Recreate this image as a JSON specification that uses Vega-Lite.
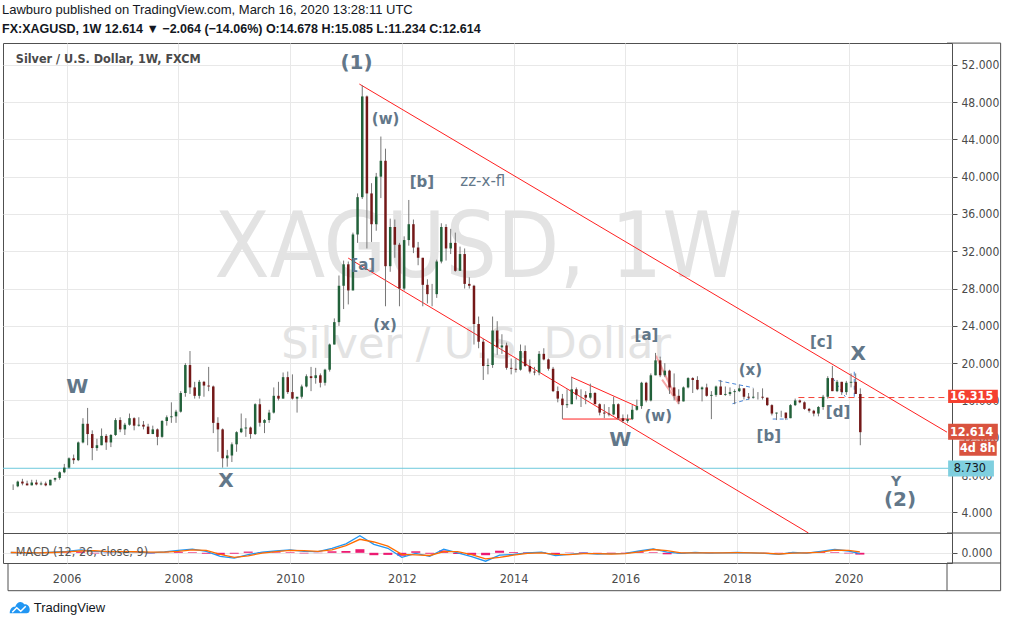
{
  "$schema": "https://vega.github.io/schema/vega-lite/v6.json",
  "background": "white",
  "padding": {"left": 2, "top": 3, "right": 0, "bottom": 0},
  "spacing": 0,
  "bounds": "flush",
  "title": {
    "text": "Lawburo published on TradingView.com, March 16, 2020 13:28:11 UTC",
    "subtitle": "FX:XAGUSD, 1W  12.614 ▼ −2.064 (−14.06%)  O:14.678  H:15.085  L:11.234  C:12.614",
    "anchor": "start",
    "font": "Liberation Sans",
    "fontSize": 13,
    "fontWeight": "normal",
    "color": "#131722",
    "subtitleFont": "Liberation Sans",
    "subtitleFontSize": 12.5,
    "subtitleFontWeight": "bold",
    "subtitleColor": "#131722",
    "subtitlePadding": 6,
    "offset": 7
  },
  "datasets": {
    "px": [
      {"t":2005.042,"o":6.8,"h":7.0,"l":6.4,"c":6.8},
      {"t":2005.125,"o":6.8,"h":7.4,"l":6.7,"c":7.3},
      {"t":2005.208,"o":7.3,"h":7.6,"l":6.9,"c":7.1},
      {"t":2005.292,"o":7.1,"h":7.4,"l":6.9,"c":6.9},
      {"t":2005.375,"o":6.9,"h":7.5,"l":6.9,"c":7.2},
      {"t":2005.458,"o":7.2,"h":7.5,"l":6.9,"c":7.0},
      {"t":2005.542,"o":7.0,"h":7.3,"l":6.9,"c":7.1},
      {"t":2005.625,"o":7.1,"h":7.3,"l":6.8,"c":6.9},
      {"t":2005.708,"o":6.9,"h":7.5,"l":6.9,"c":7.5},
      {"t":2005.792,"o":7.5,"h":7.7,"l":7.3,"c":7.7},
      {"t":2005.875,"o":7.7,"h":8.4,"l":7.5,"c":8.3},
      {"t":2005.958,"o":8.3,"h":9.2,"l":8.2,"c":8.8},
      {"t":2006.042,"o":8.8,"h":9.9,"l":8.7,"c":9.8},
      {"t":2006.125,"o":9.8,"h":10.2,"l":9.2,"c":9.6},
      {"t":2006.208,"o":9.6,"h":11.6,"l":9.5,"c":11.5},
      {"t":2006.292,"o":11.5,"h":14.1,"l":11.4,"c":13.5},
      {"t":2006.375,"o":13.5,"h":15.2,"l":11.2,"c":12.4},
      {"t":2006.458,"o":12.4,"h":12.8,"l":9.6,"c":10.9},
      {"t":2006.542,"o":10.9,"h":11.9,"l":10.6,"c":11.2},
      {"t":2006.625,"o":11.2,"h":13.0,"l":11.2,"c":12.2},
      {"t":2006.708,"o":12.2,"h":12.4,"l":10.7,"c":11.5},
      {"t":2006.792,"o":11.5,"h":12.4,"l":11.0,"c":12.3},
      {"t":2006.875,"o":12.3,"h":14.1,"l":12.2,"c":13.9},
      {"t":2006.958,"o":13.9,"h":14.2,"l":12.6,"c":12.9},
      {"t":2007.042,"o":12.9,"h":13.6,"l":12.3,"c":13.4},
      {"t":2007.125,"o":13.4,"h":14.6,"l":13.3,"c":14.1},
      {"t":2007.208,"o":14.1,"h":14.2,"l":12.8,"c":13.3},
      {"t":2007.292,"o":13.3,"h":14.2,"l":13.2,"c":13.4},
      {"t":2007.375,"o":13.4,"h":13.8,"l":12.9,"c":13.2},
      {"t":2007.458,"o":13.2,"h":13.5,"l":12.5,"c":12.4},
      {"t":2007.542,"o":12.4,"h":13.3,"l":12.4,"c":12.9},
      {"t":2007.625,"o":12.9,"h":13.0,"l":11.2,"c":12.1},
      {"t":2007.708,"o":12.1,"h":13.9,"l":12.0,"c":13.8},
      {"t":2007.792,"o":13.8,"h":14.4,"l":13.3,"c":14.2},
      {"t":2007.875,"o":14.2,"h":15.8,"l":13.6,"c":14.3},
      {"t":2007.958,"o":14.3,"h":15.0,"l":13.6,"c":14.8},
      {"t":2008.042,"o":14.8,"h":17.0,"l":14.7,"c":16.8},
      {"t":2008.125,"o":16.8,"h":20.0,"l":16.4,"c":19.8},
      {"t":2008.208,"o":19.8,"h":21.3,"l":16.7,"c":17.4},
      {"t":2008.292,"o":17.4,"h":18.0,"l":16.2,"c":16.5},
      {"t":2008.375,"o":16.5,"h":18.2,"l":16.2,"c":18.0},
      {"t":2008.458,"o":18.0,"h":18.1,"l":16.4,"c":17.6},
      {"t":2008.542,"o":17.6,"h":19.6,"l":17.0,"c":17.5},
      {"t":2008.625,"o":17.5,"h":17.6,"l":12.5,"c":13.6},
      {"t":2008.708,"o":13.6,"h":14.2,"l":10.5,"c":12.9},
      {"t":2008.792,"o":12.9,"h":13.0,"l":8.8,"c":9.8},
      {"t":2008.875,"o":9.8,"h":10.7,"l":8.9,"c":10.1},
      {"t":2008.958,"o":10.1,"h":11.5,"l":9.4,"c":11.3},
      {"t":2009.042,"o":11.3,"h":12.7,"l":10.5,"c":12.6},
      {"t":2009.125,"o":12.6,"h":14.6,"l":12.5,"c":13.0},
      {"t":2009.208,"o":13.0,"h":14.1,"l":12.1,"c":13.1},
      {"t":2009.292,"o":13.1,"h":13.2,"l":11.9,"c":12.4},
      {"t":2009.375,"o":12.4,"h":15.7,"l":12.3,"c":15.6},
      {"t":2009.458,"o":15.6,"h":16.2,"l":13.2,"c":13.6},
      {"t":2009.542,"o":13.6,"h":14.0,"l":12.5,"c":13.9},
      {"t":2009.625,"o":13.9,"h":15.0,"l":13.6,"c":14.7},
      {"t":2009.708,"o":14.7,"h":17.4,"l":14.6,"c":16.5},
      {"t":2009.792,"o":16.5,"h":18.0,"l":16.0,"c":16.2},
      {"t":2009.875,"o":16.2,"h":19.0,"l":16.2,"c":18.5},
      {"t":2009.958,"o":18.5,"h":19.1,"l":16.7,"c":16.9},
      {"t":2010.042,"o":16.9,"h":18.8,"l":16.1,"c":16.2},
      {"t":2010.125,"o":16.2,"h":16.3,"l":14.7,"c":16.4},
      {"t":2010.208,"o":16.4,"h":17.7,"l":16.2,"c":17.5},
      {"t":2010.292,"o":17.5,"h":18.8,"l":17.4,"c":18.6},
      {"t":2010.375,"o":18.6,"h":19.6,"l":17.0,"c":18.4},
      {"t":2010.458,"o":18.4,"h":19.5,"l":17.8,"c":18.7},
      {"t":2010.542,"o":18.7,"h":18.9,"l":17.4,"c":17.9},
      {"t":2010.625,"o":17.9,"h":19.4,"l":17.6,"c":19.3},
      {"t":2010.708,"o":19.3,"h":22.1,"l":19.1,"c":22.0},
      {"t":2010.792,"o":22.0,"h":24.8,"l":22.0,"c":24.4},
      {"t":2010.875,"o":24.4,"h":29.4,"l":24.0,"c":28.3},
      {"t":2010.958,"o":28.3,"h":31.0,"l":25.8,"c":30.6},
      {"t":2011.042,"o":30.6,"h":30.9,"l":26.3,"c":27.8},
      {"t":2011.125,"o":27.8,"h":34.0,"l":27.8,"c":33.8},
      {"t":2011.208,"o":33.8,"h":38.2,"l":32.9,"c":37.8},
      {"t":2011.292,"o":37.8,"h":49.8,"l":37.6,"c":48.6},
      {"t":2011.375,"o":48.6,"h":48.7,"l":32.3,"c":38.2},
      {"t":2011.458,"o":38.2,"h":39.3,"l":33.0,"c":34.9},
      {"t":2011.542,"o":34.9,"h":40.4,"l":34.2,"c":40.0},
      {"t":2011.625,"o":40.0,"h":44.3,"l":37.7,"c":41.7},
      {"t":2011.708,"o":41.7,"h":43.0,"l":26.1,"c":30.4},
      {"t":2011.792,"o":30.4,"h":35.5,"l":29.8,"c":34.6},
      {"t":2011.875,"o":34.6,"h":35.4,"l":31.3,"c":32.7},
      {"t":2011.958,"o":32.7,"h":32.9,"l":26.1,"c":28.0},
      {"t":2012.042,"o":28.0,"h":33.6,"l":27.8,"c":33.2},
      {"t":2012.125,"o":33.2,"h":37.5,"l":32.6,"c":34.9},
      {"t":2012.208,"o":34.9,"h":35.4,"l":31.8,"c":32.4},
      {"t":2012.292,"o":32.4,"h":33.0,"l":30.5,"c":31.3},
      {"t":2012.375,"o":31.3,"h":31.3,"l":26.1,"c":28.4},
      {"t":2012.458,"o":28.4,"h":29.0,"l":26.4,"c":27.4},
      {"t":2012.542,"o":27.4,"h":28.5,"l":26.1,"c":27.4},
      {"t":2012.625,"o":27.4,"h":31.1,"l":27.0,"c":30.9},
      {"t":2012.708,"o":30.9,"h":35.0,"l":30.7,"c":34.6},
      {"t":2012.792,"o":34.6,"h":34.9,"l":31.0,"c":32.3},
      {"t":2012.875,"o":32.3,"h":34.4,"l":31.7,"c":32.9},
      {"t":2012.958,"o":32.9,"h":34.0,"l":29.8,"c":29.9},
      {"t":2013.042,"o":29.9,"h":32.5,"l":29.9,"c":31.7},
      {"t":2013.125,"o":31.7,"h":32.3,"l":28.0,"c":28.5},
      {"t":2013.208,"o":28.5,"h":29.2,"l":28.0,"c":28.3},
      {"t":2013.292,"o":28.3,"h":28.4,"l":22.0,"c":24.2},
      {"t":2013.375,"o":24.2,"h":25.0,"l":21.6,"c":22.3},
      {"t":2013.458,"o":22.3,"h":22.6,"l":18.2,"c":19.7},
      {"t":2013.542,"o":19.7,"h":20.5,"l":18.8,"c":19.8},
      {"t":2013.625,"o":19.8,"h":25.0,"l":19.5,"c":23.5},
      {"t":2013.708,"o":23.5,"h":24.5,"l":20.9,"c":21.7},
      {"t":2013.792,"o":21.7,"h":23.1,"l":21.0,"c":21.9},
      {"t":2013.875,"o":21.9,"h":22.2,"l":19.3,"c":19.5},
      {"t":2013.958,"o":19.5,"h":20.5,"l":18.8,"c":19.4},
      {"t":2014.042,"o":19.4,"h":20.5,"l":19.0,"c":19.3},
      {"t":2014.125,"o":19.3,"h":22.0,"l":19.2,"c":21.3},
      {"t":2014.208,"o":21.3,"h":21.9,"l":19.6,"c":19.7},
      {"t":2014.292,"o":19.7,"h":20.4,"l":18.9,"c":19.1},
      {"t":2014.375,"o":19.1,"h":19.6,"l":18.7,"c":19.0},
      {"t":2014.458,"o":19.0,"h":21.3,"l":18.7,"c":21.0},
      {"t":2014.542,"o":21.0,"h":21.6,"l":20.3,"c":20.4},
      {"t":2014.625,"o":20.4,"h":20.5,"l":19.2,"c":19.4},
      {"t":2014.708,"o":19.4,"h":19.6,"l":16.9,"c":17.0},
      {"t":2014.792,"o":17.0,"h":17.5,"l":15.8,"c":16.2},
      {"t":2014.875,"o":16.2,"h":16.7,"l":14.0,"c":15.5},
      {"t":2014.958,"o":15.5,"h":17.2,"l":15.2,"c":15.6},
      {"t":2015.042,"o":15.6,"h":18.5,"l":15.6,"c":17.2},
      {"t":2015.125,"o":17.2,"h":17.4,"l":16.1,"c":16.6},
      {"t":2015.208,"o":16.6,"h":17.2,"l":15.3,"c":16.6},
      {"t":2015.292,"o":16.6,"h":17.0,"l":15.6,"c":16.3},
      {"t":2015.375,"o":16.3,"h":17.8,"l":16.1,"c":16.8},
      {"t":2015.458,"o":16.8,"h":16.9,"l":15.6,"c":15.6},
      {"t":2015.542,"o":15.6,"h":15.7,"l":14.4,"c":14.7},
      {"t":2015.625,"o":14.7,"h":15.6,"l":14.1,"c":14.6},
      {"t":2015.708,"o":14.6,"h":15.3,"l":14.3,"c":14.5},
      {"t":2015.792,"o":14.5,"h":16.4,"l":14.4,"c":15.6},
      {"t":2015.875,"o":15.6,"h":15.7,"l":13.9,"c":14.1},
      {"t":2015.958,"o":14.1,"h":14.5,"l":13.6,"c":13.8},
      {"t":2016.042,"o":13.8,"h":14.5,"l":13.6,"c":14.0},
      {"t":2016.125,"o":14.0,"h":15.5,"l":13.9,"c":15.0},
      {"t":2016.208,"o":15.0,"h":16.1,"l":14.9,"c":15.4},
      {"t":2016.292,"o":15.4,"h":18.0,"l":15.1,"c":17.9},
      {"t":2016.375,"o":17.9,"h":18.0,"l":15.8,"c":16.0},
      {"t":2016.458,"o":16.0,"h":18.9,"l":15.9,"c":18.7},
      {"t":2016.542,"o":18.7,"h":21.1,"l":18.7,"c":20.3},
      {"t":2016.625,"o":20.3,"h":20.7,"l":18.5,"c":18.7},
      {"t":2016.708,"o":18.7,"h":20.0,"l":18.5,"c":19.2},
      {"t":2016.792,"o":19.2,"h":19.3,"l":16.7,"c":17.4},
      {"t":2016.875,"o":17.4,"h":18.9,"l":16.0,"c":16.5},
      {"t":2016.958,"o":16.5,"h":17.2,"l":15.6,"c":15.9},
      {"t":2017.042,"o":15.9,"h":17.5,"l":15.9,"c":17.4},
      {"t":2017.125,"o":17.4,"h":18.5,"l":17.3,"c":18.4},
      {"t":2017.208,"o":18.4,"h":18.5,"l":16.8,"c":18.2},
      {"t":2017.292,"o":18.2,"h":18.6,"l":17.1,"c":17.2},
      {"t":2017.375,"o":17.2,"h":17.5,"l":15.9,"c":17.4},
      {"t":2017.458,"o":17.4,"h":17.8,"l":16.4,"c":16.5},
      {"t":2017.542,"o":16.5,"h":17.0,"l":14.0,"c":16.6},
      {"t":2017.625,"o":16.6,"h":17.6,"l":16.4,"c":17.5},
      {"t":2017.708,"o":17.5,"h":18.2,"l":16.6,"c":16.6},
      {"t":2017.792,"o":16.6,"h":17.5,"l":16.5,"c":16.7},
      {"t":2017.875,"o":16.7,"h":17.4,"l":16.5,"c":16.9},
      {"t":2017.958,"o":16.9,"h":17.2,"l":15.6,"c":17.0},
      {"t":2018.042,"o":17.0,"h":17.7,"l":16.9,"c":17.3},
      {"t":2018.125,"o":17.3,"h":17.3,"l":16.1,"c":16.4},
      {"t":2018.208,"o":16.4,"h":16.8,"l":16.1,"c":16.3},
      {"t":2018.292,"o":16.3,"h":17.3,"l":16.2,"c":16.4},
      {"t":2018.375,"o":16.4,"h":16.9,"l":16.1,"c":16.4},
      {"t":2018.458,"o":16.4,"h":17.3,"l":16.1,"c":16.3},
      {"t":2018.542,"o":16.3,"h":16.3,"l":15.4,"c":15.5},
      {"t":2018.625,"o":15.5,"h":15.6,"l":14.4,"c":14.6},
      {"t":2018.708,"o":14.6,"h":14.7,"l":13.9,"c":14.7},
      {"t":2018.792,"o":14.7,"h":14.9,"l":14.2,"c":14.7},
      {"t":2018.875,"o":14.7,"h":14.7,"l":13.9,"c":14.1},
      {"t":2018.958,"o":14.1,"h":15.6,"l":14.1,"c":15.5},
      {"t":2019.042,"o":15.5,"h":16.2,"l":15.4,"c":16.0},
      {"t":2019.125,"o":16.0,"h":16.1,"l":15.7,"c":15.8},
      {"t":2019.208,"o":15.8,"h":15.9,"l":15.0,"c":15.1},
      {"t":2019.292,"o":15.1,"h":15.2,"l":14.7,"c":14.9},
      {"t":2019.375,"o":14.9,"h":15.0,"l":14.3,"c":14.6},
      {"t":2019.458,"o":14.6,"h":15.4,"l":14.3,"c":15.3},
      {"t":2019.542,"o":15.3,"h":16.6,"l":15.0,"c":16.4},
      {"t":2019.625,"o":16.4,"h":18.6,"l":16.2,"c":18.4},
      {"t":2019.708,"o":18.4,"h":19.7,"l":17.0,"c":17.0},
      {"t":2019.792,"o":17.0,"h":18.2,"l":16.9,"c":18.0},
      {"t":2019.875,"o":18.0,"h":18.0,"l":16.6,"c":16.9},
      {"t":2019.958,"o":16.9,"h":18.1,"l":16.6,"c":17.9},
      {"t":2020.042,"o":17.9,"h":18.9,"l":17.4,"c":18.0},
      {"t":2020.125,"o":18.0,"h":18.9,"l":16.7,"c":16.7},
      {"t":2020.208,"o":16.7,"h":17.3,"l":11.2,"c":12.6}
    ],
    "redlines": [
      {"id":"upper","t":2011.24,"v":49.93},
      {"id":"upper","t":2021.76,"v":12.6},
      {"id":"lower","t":2011.04,"v":31.27},
      {"id":"lower","t":2019.28,"v":1.79},
      {"id":"ch1","t":2015.03,"v":18.52},
      {"id":"ch1","t":2016.22,"v":15.33},
      {"id":"ch2","t":2014.88,"v":14.01},
      {"id":"ch2","t":2016.11,"v":14.01}
    ],
    "pink": [
      {"id":"p1","t":2016.55,"v":20.8},
      {"id":"p1","t":2016.96,"v":15.65},
      {"id":"p2","t":2016.66,"v":18.23},
      {"id":"p2","t":2016.96,"v":15.65}
    ],
    "blue": [
      {"id":"b1","t":2017.67,"v":18.12},
      {"id":"b1","t":2018.29,"v":17.37},
      {"id":"b2","t":2017.92,"v":15.65},
      {"id":"b2","t":2018.29,"v":16.3},
      {"id":"b3","t":2019.71,"v":18.44},
      {"id":"b3","t":2019.94,"v":16.4},
      {"id":"b4","t":2020.1,"v":19.08},
      {"id":"b4","t":2020.1,"v":16.3},
      {"id":"b5","t":2018.64,"v":14.01},
      {"id":"b5","t":2018.91,"v":14.01}
    ],
    "dashed": [
      {"t":2019.1,"v":16.315},
      {"t":2021.76,"v":16.315}
    ],
    "bigLabels": [
      {"txt":"(1)","t":2011.19,"v":52.18},
      {"txt":"W","t":2006.19,"v":17.4},
      {"txt":"X","t":2008.85,"v":7.32},
      {"txt":"W","t":2015.91,"v":11.72},
      {"txt":"X","t":2020.17,"v":21.01},
      {"txt":"(2)","t":2020.92,"v":5.36}
    ],
    "midLabels": [
      {"txt":"(w)","t":2011.71,"v":46.21},
      {"txt":"[b]","t":2012.36,"v":39.46},
      {"txt":"[a]","t":2011.31,"v":30.56},
      {"txt":"(x)","t":2011.7,"v":24.12},
      {"txt":"[a]","t":2016.38,"v":22.98},
      {"txt":"(w)","t":2016.59,"v":14.29},
      {"txt":"(x)","t":2018.24,"v":19.3},
      {"txt":"[b]","t":2018.57,"v":12.15},
      {"txt":"[c]","t":2019.51,"v":22.27},
      {"txt":"[d]","t":2019.81,"v":14.72}
    ],
    "macd": [
      {"t":2005.0,"m":0.1,"s":0.1,"h":0.0},
      {"t":2005.25,"m":0.0,"s":0.05,"h":-0.05},
      {"t":2005.5,"m":0.0,"s":0.0,"h":0.0},
      {"t":2005.75,"m":0.2,"s":0.1,"h":0.1},
      {"t":2006.0,"m":0.5,"s":0.3,"h":0.2},
      {"t":2006.25,"m":1.0,"s":0.6,"h":0.4},
      {"t":2006.5,"m":0.5,"s":0.7,"h":-0.2},
      {"t":2006.75,"m":0.3,"s":0.4,"h":-0.1},
      {"t":2007.0,"m":0.4,"s":0.4,"h":0.0},
      {"t":2007.25,"m":0.3,"s":0.35,"h":-0.05},
      {"t":2007.5,"m":0.0,"s":0.2,"h":-0.2},
      {"t":2007.75,"m":0.3,"s":0.2,"h":0.1},
      {"t":2008.0,"m":0.8,"s":0.5,"h":0.3},
      {"t":2008.25,"m":1.2,"s":1.0,"h":0.2},
      {"t":2008.5,"m":0.5,"s":0.8,"h":-0.3},
      {"t":2008.75,"m":-1.2,"s":-0.5,"h":-0.7},
      {"t":2009.0,"m":-1.8,"s":-1.5,"h":-0.3},
      {"t":2009.25,"m":-0.6,"s":-1.0,"h":0.4},
      {"t":2009.5,"m":0.2,"s":-0.1,"h":0.3},
      {"t":2009.75,"m":0.6,"s":0.4,"h":0.2},
      {"t":2010.0,"m":1.0,"s":0.8,"h":0.2},
      {"t":2010.25,"m":0.5,"s":0.7,"h":-0.2},
      {"t":2010.5,"m":0.4,"s":0.5,"h":-0.1},
      {"t":2010.75,"m":1.5,"s":1.0,"h":0.5},
      {"t":2011.0,"m":3.0,"s":2.4,"h":0.6},
      {"t":2011.25,"m":5.7,"s":4.5,"h":1.2},
      {"t":2011.5,"m":2.8,"s":3.6,"h":-0.8},
      {"t":2011.75,"m":1.5,"s":2.2,"h":-0.7},
      {"t":2012.0,"m":-1.5,"s":-0.5,"h":-1.0},
      {"t":2012.25,"m":-0.2,"s":-0.7,"h":0.5},
      {"t":2012.5,"m":-1.2,"s":-0.9,"h":-0.3},
      {"t":2012.75,"m":1.2,"s":0.4,"h":0.8},
      {"t":2013.0,"m":0.0,"s":0.4,"h":-0.4},
      {"t":2013.25,"m":-1.3,"s":-0.6,"h":-0.7},
      {"t":2013.5,"m":-2.8,"s":-2.0,"h":-0.8},
      {"t":2013.75,"m":-0.8,"s":-1.5,"h":0.7},
      {"t":2014.0,"m":-0.5,"s":-0.8,"h":0.3},
      {"t":2014.25,"m":0.0,"s":-0.2,"h":0.2},
      {"t":2014.5,"m":0.2,"s":0.0,"h":0.2},
      {"t":2014.75,"m":-0.9,"s":-0.5,"h":-0.4},
      {"t":2015.0,"m":-0.5,"s":-0.6,"h":0.1},
      {"t":2015.25,"m":-0.1,"s":-0.3,"h":0.2},
      {"t":2015.5,"m":-0.4,"s":-0.3,"h":-0.1},
      {"t":2015.75,"m":-0.3,"s":-0.4,"h":0.1},
      {"t":2016.0,"m":-0.2,"s":-0.3,"h":0.1},
      {"t":2016.25,"m":0.6,"s":0.3,"h":0.3},
      {"t":2016.5,"m":1.3,"s":1.1,"h":0.2},
      {"t":2016.75,"m":0.2,"s":0.7,"h":-0.5},
      {"t":2017.0,"m":-0.2,"s":0.0,"h":-0.2},
      {"t":2017.25,"m":0.1,"s":0.0,"h":0.1},
      {"t":2017.5,"m":-0.1,"s":0.0,"h":-0.1},
      {"t":2017.75,"m":0.0,"s":0.0,"h":0.0},
      {"t":2018.0,"m":0.1,"s":0.05,"h":0.05},
      {"t":2018.25,"m":0.0,"s":0.0,"h":0.0},
      {"t":2018.5,"m":-0.2,"s":-0.1,"h":-0.1},
      {"t":2018.75,"m":-0.5,"s":-0.4,"h":-0.1},
      {"t":2019.0,"m":0.1,"s":-0.1,"h":0.2},
      {"t":2019.25,"m":-0.1,"s":0.0,"h":-0.1},
      {"t":2019.5,"m":0.5,"s":0.2,"h":0.3},
      {"t":2019.75,"m":1.1,"s":0.9,"h":0.2},
      {"t":2020.0,"m":0.6,"s":0.8,"h":-0.2},
      {"t":2020.2,"m":-0.3,"s":0.3,"h":-0.6}
    ],
    "frame": [
      {"a":2021.76,"b":2022.72,"c":169.9,"d":169.9},
      {"a":2022.72,"b":2022.72,"c":169.9,"d":-12.63},
      {"a":2021.76,"b":2022.72,"c":6.6,"d":6.6},
      {"a":2021.76,"b":2022.72,"c":-3.4,"d":-3.4},
      {"a":2004.95,"b":2022.72,"c":-12.63,"d":-12.63},
      {"a":2004.95,"b":2004.95,"c":-3.4,"d":-12.63},
      {"a":2021.76,"b":2021.76,"c":-3.4,"d":-12.63}
    ]
  },
  "vconcat": [
    {
      "width": 949,
      "height": 490,
      "encoding": {
        "x": {"type": "quantitative", "scale": {"domain": [2004.95, 2021.76], "nice": false, "zero": false},
              "axis": {"values": [2006,2008,2010,2012,2014,2016,2018,2020], "grid": true, "labels": false, "ticks": false, "domain": false, "title": null}},
        "y": {"type": "quantitative", "scale": {"domain": [1.79, 54.33], "nice": false, "zero": false},
              "axis": {"orient": "right", "values": [4,8,12,16,20,24,28,32,36,40,44,48,52], "format": ".3f", "grid": true, "tickSize": 5, "labelPadding": 4, "domain": false, "title": null}}
      },
      "layer": [
        {
          "data": {"values": [{"txt": "XAGUSD, 1W", "t": 2013.37, "v": 29.27}]},
          "mark": {"type": "text", "font": "DejaVu Sans Condensed, Liberation Sans", "fontSize": 90, "color": "#e3e3e3", "align": "center", "baseline": "alphabetic"},
          "encoding": {"x": {"field": "t"}, "y": {"field": "v"}, "text": {"field": "txt"}}
        },
        {
          "data": {"values": [{"txt": "Silver / U.S. Dollar", "t": 2013.33, "v": 20.55}]},
          "mark": {"type": "text", "font": "DejaVu Sans", "fontSize": 43, "color": "#e3e3e3", "align": "center", "baseline": "alphabetic"},
          "encoding": {"x": {"field": "t"}, "y": {"field": "v"}, "text": {"field": "txt"}}
        },
        {
          "data": {"values": [{"v": 8.73}]},
          "mark": {"type": "rule", "color": "#6cc9dc", "strokeWidth": 1},
          "encoding": {"y": {"field": "v"}}
        },
        {
          "data": {"name": "redlines"},
          "mark": {"type": "line", "color": "#ff2020", "strokeWidth": 1, "clip": true},
          "encoding": {"x": {"field": "t"}, "y": {"field": "v"}, "detail": {"field": "id"}}
        },
        {
          "data": {"name": "pink"},
          "mark": {"type": "line", "color": "#f7a8a8", "strokeWidth": 2, "clip": true},
          "encoding": {"x": {"field": "t"}, "y": {"field": "v"}, "detail": {"field": "id"}}
        },
        {
          "data": {"name": "blue"},
          "mark": {"type": "line", "color": "#4a86d8", "strokeWidth": 1, "strokeDash": [4, 3], "clip": true},
          "encoding": {"x": {"field": "t"}, "y": {"field": "v"}, "detail": {"field": "id"}}
        },
        {
          "data": {"name": "dashed"},
          "mark": {"type": "line", "color": "#f44336", "strokeWidth": 1, "strokeDash": [6, 4], "clip": true},
          "encoding": {"x": {"field": "t"}, "y": {"field": "v"}}
        },
        {
          "data": {"name": "px"},
          "mark": {"type": "rule", "color": "#777777", "strokeWidth": 1, "clip": true},
          "encoding": {"x": {"field": "t"}, "y": {"field": "l"}, "y2": {"field": "h"}}
        },
        {
          "data": {"name": "px"},
          "mark": {"type": "bar", "size": 2.5, "clip": true},
          "encoding": {
            "x": {"field": "t"}, "y": {"field": "o"}, "y2": {"field": "c"},
            "color": {"condition": {"test": "datum.c >= datum.o", "value": "#22613a"}, "value": "#741818"}
          }
        },
        {
          "data": {"name": "bigLabels"},
          "mark": {"type": "text", "font": "DejaVu Sans", "fontWeight": "bold", "fontSize": 20, "color": "#627789", "align": "center", "baseline": "middle"},
          "encoding": {"x": {"field": "t"}, "y": {"field": "v"}, "text": {"field": "txt"}}
        },
        {
          "data": {"name": "midLabels"},
          "mark": {"type": "text", "font": "DejaVu Sans", "fontWeight": "bold", "fontSize": 15, "color": "#627789", "align": "center", "baseline": "middle"},
          "encoding": {"x": {"field": "t"}, "y": {"field": "v"}, "text": {"field": "txt"}}
        },
        {
          "data": {"values": [{"txt": "Y", "t": 2020.85, "v": 7.22}]},
          "mark": {"type": "text", "font": "DejaVu Sans", "fontWeight": "bold", "fontSize": 14, "color": "#627789", "align": "center", "baseline": "middle"},
          "encoding": {"x": {"field": "t"}, "y": {"field": "v"}, "text": {"field": "txt"}}
        },
        {
          "data": {"values": [{"txt": "zz-x-fl", "t": 2013.45, "v": 39.56}]},
          "mark": {"type": "text", "font": "DejaVu Sans", "fontSize": 15, "color": "#627789", "align": "center", "baseline": "middle"},
          "encoding": {"x": {"field": "t"}, "y": {"field": "v"}, "text": {"field": "txt"}}
        },
        {
          "data": {"values": [{"txt": "Silver / U.S. Dollar, 1W, FXCM", "t": 2005.09, "v": 52.6}]},
          "mark": {"type": "text", "font": "DejaVu Sans Condensed, Liberation Sans", "fontWeight": "bold", "fontSize": 12.5, "color": "#4a4a4a", "align": "left", "baseline": "middle"},
          "encoding": {"x": {"field": "t"}, "y": {"field": "v"}, "text": {"field": "txt"}}
        },
        {
          "data": {"values": [
            {"lab": "16.315", "x1": 2021.78, "x2": 2022.67, "y1": 15.73, "y2": 17.15},
            {"lab": "12.614", "x1": 2021.78, "x2": 2022.67, "y1": 11.79, "y2": 13.51}
          ]},
          "mark": {"type": "rect", "clip": false},
          "encoding": {
            "x": {"field": "x1"}, "x2": {"field": "x2"}, "y": {"field": "y1"}, "y2": {"field": "y2"},
            "color": {"condition": {"test": "datum.lab == '16.315'", "value": "#f5402f"}, "value": "#d9533f"}
          }
        },
        {
          "data": {"values": [{"lab": "4d 8h", "x1": 2021.98, "x2": 2022.65, "y1": 10.08, "y2": 11.72}]},
          "mark": {"type": "rect", "clip": false, "color": "#d9533f"},
          "encoding": {"x": {"field": "x1"}, "x2": {"field": "x2"}, "y": {"field": "y1"}, "y2": {"field": "y2"}}
        },
        {
          "data": {"values": [{"lab": "8.730", "x1": 2021.78, "x2": 2022.6, "y1": 7.86, "y2": 9.57}]},
          "mark": {"type": "rect", "clip": false, "color": "#7fcfdf"},
          "encoding": {"x": {"field": "x1"}, "x2": {"field": "x2"}, "y": {"field": "y1"}, "y2": {"field": "y2"}}
        },
        {
          "data": {"values": [
            {"lab": "16.315", "t": 2022.2, "v": 16.44},
            {"lab": "12.614", "t": 2022.2, "v": 12.65},
            {"lab": "4d 8h", "t": 2022.31, "v": 10.9}
          ]},
          "mark": {"type": "text", "clip": false, "font": "DejaVu Sans Condensed, Liberation Sans", "fontWeight": "bold", "fontSize": 12.5, "color": "white", "align": "center", "baseline": "middle"},
          "encoding": {"x": {"field": "t"}, "y": {"field": "v"}, "text": {"field": "lab"}}
        },
        {
          "data": {"values": [{"lab": "8.730", "t": 2022.17, "v": 8.72}]},
          "mark": {"type": "text", "clip": false, "font": "DejaVu Sans Condensed, Liberation Sans", "fontSize": 12.5, "color": "#131722", "align": "center", "baseline": "middle"},
          "encoding": {"x": {"field": "t"}, "y": {"field": "v"}, "text": {"field": "lab"}}
        }
      ]
    },
    {
      "width": 949,
      "height": 30,
      "encoding": {
        "x": {"type": "quantitative", "scale": {"domain": [2004.95, 2021.76], "nice": false, "zero": false},
              "axis": {"values": [2006,2008,2010,2012,2014,2016,2018,2020], "format": "d", "grid": true, "ticks": false, "domain": false, "labelPadding": 9, "labelFontSize": 12.5, "title": null}},
        "y": {"type": "quantitative", "scale": {"domain": [-3.4, 6.6], "nice": false, "zero": false},
              "axis": {"orient": "right", "values": [0], "format": ".3f", "grid": true, "tickSize": 5, "labelPadding": 4, "domain": false, "title": null}}
      },
      "layer": [
        {
          "data": {"name": "macd"},
          "mark": {"type": "bar", "size": 9, "color": "#ec1b72", "clip": true},
          "encoding": {"x": {"field": "t"}, "y": {"field": "h"}, "y2": {"datum": 0}}
        },
        {
          "data": {"name": "macd"},
          "mark": {"type": "line", "color": "#2196f3", "strokeWidth": 1.3, "clip": true},
          "encoding": {"x": {"field": "t"}, "y": {"field": "m"}}
        },
        {
          "data": {"name": "macd"},
          "mark": {"type": "line", "color": "#ff6d00", "strokeWidth": 1.3, "clip": true},
          "encoding": {"x": {"field": "t"}, "y": {"field": "s"}}
        },
        {
          "data": {"values": [{"txt": "MACD (12, 26, close, 9)", "t": 2005.09, "v": 0.4}]},
          "mark": {"type": "text", "font": "DejaVu Sans Condensed, Liberation Sans", "fontSize": 12.5, "color": "#555555", "align": "left", "baseline": "middle"},
          "encoding": {"x": {"field": "t"}, "y": {"field": "v"}, "text": {"field": "txt"}}
        },
        {
          "data": {"name": "frame"},
          "mark": {"type": "rule", "color": "#505050", "strokeWidth": 1, "clip": false},
          "encoding": {"x": {"field": "a"}, "x2": {"field": "b"}, "y": {"field": "c"}, "y2": {"field": "d"}}
        },
        {
          "data": {"values": [{"t": 2005.16, "v": -18.3}]},
          "mark": {"type": "point", "clip": false, "filled": true, "opacity": 1, "color": "#2196f3", "size": 400,
                   "shape": "M-1,0.55 C-1,0.1 -0.75,-0.15 -0.45,-0.1 C-0.3,-0.55 0.15,-0.75 0.45,-0.35 C0.8,-0.4 1,-0.1 1,0.2 C1,0.45 0.85,0.55 0.7,0.55 Z"},
          "encoding": {"x": {"field": "t"}, "y": {"field": "v"}}
        },
        {
          "data": {"values": [{"t": 2005.16, "v": -18.3}]},
          "mark": {"type": "point", "clip": false, "filled": false, "opacity": 1, "color": "white", "strokeWidth": 1.5, "size": 400,
                   "shape": "M-0.75,0.45 L-0.3,0.0 L0.1,0.35 L0.6,-0.15"},
          "encoding": {"x": {"field": "t"}, "y": {"field": "v"}}
        },
        {
          "data": {"values": [{"txt": "TradingView", "t": 2005.41, "v": -18.3}]},
          "mark": {"type": "text", "clip": false, "font": "Liberation Sans", "fontSize": 13, "color": "#131722", "align": "left", "baseline": "middle"},
          "encoding": {"x": {"field": "t"}, "y": {"field": "v"}, "text": {"field": "txt"}}
        }
      ]
    }
  ],
  "config": {
    "view": {"stroke": "#505050", "strokeWidth": 1},
    "axis": {"labelFont": "DejaVu Sans Condensed, Liberation Sans", "labelFontSize": 12, "labelColor": "#4a4a4a", "gridColor": "#e8e8e8", "tickColor": "#505050", "domainColor": "#505050"}
  }
}
